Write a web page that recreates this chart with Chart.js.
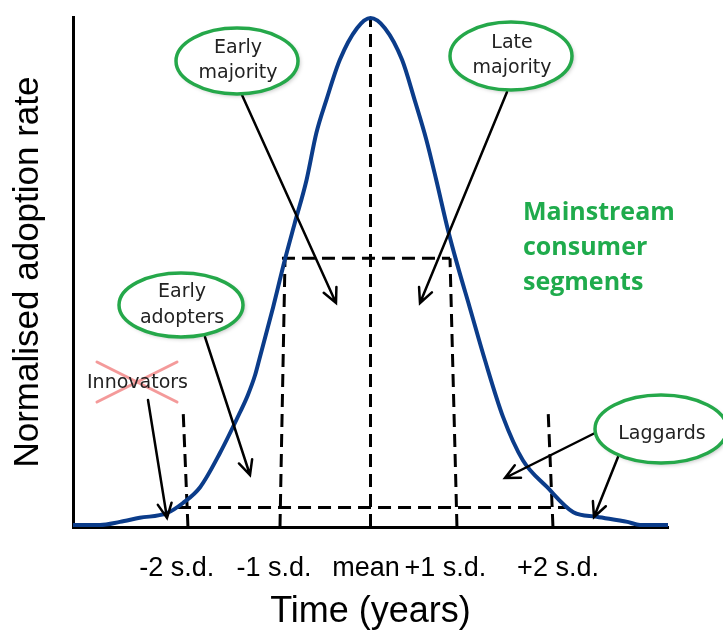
<!DOCTYPE html>
<html>
<head>
<meta charset="utf-8">
<script src="https://cdn.jsdelivr.net/npm/chart.js@4"></script>
<style>
  html, body { margin: 0; padding: 0; background: #fff; }
</style>
</head>
<body>
<canvas id="chart" width="723" height="630"></canvas>
<script>
// time measured in s.d. from the mean, adoption rate normalised to the peak
let curveX = [-3.30, -3.00, -2.78, -2.56, -2.26, -2.08, -1.89, -1.67, -1.45, -1.36, -1.28, -1.23, -1.08,
              -0.95, -0.84, -0.71, -0.60, -0.49, -0.34, -0.15, 0.00, 0.16, 0.35, 0.49, 0.62,
              0.73, 0.86, 0.97, 1.10, 1.27, 1.47, 1.69, 1.96, 2.25, 2.51, 2.85, 2.99, 3.30];
let curveY = [0.004, 0.004, 0.010, 0.018, 0.027, 0.047, 0.078, 0.145, 0.224, 0.259, 0.298, 0.331, 0.431,
              0.524, 0.596, 0.680, 0.773, 0.837, 0.916, 0.978, 0.998, 0.978, 0.916, 0.837, 0.759,
              0.680, 0.582, 0.510, 0.431, 0.327, 0.216, 0.131, 0.078, 0.029, 0.020, 0.010, 0.004, 0.004];

let tickPos = [-2.15, -1.07, -0.05, 0.83, 2.08];
let tickLabels = ['-2 s.d.', '-1 s.d.', 'mean', '+1 s.d.', '+2 s.d.'];

// dashed segment boundaries: foot on the axis, top end, height of top end
let divFootX = [-2.025, -1.004, 0.0, 0.959, 2.024];
let divTopX = [-2.080, -0.948, 0.0, 0.882, 1.969];
let divTopY = [0.235, 0.527, 0.998, 0.527, 0.233];

// dashed horizontal steps
let stepY = [0.038, 0.527];
let stepFrom = [-2.135, -0.982];
let stepTo = [2.180, 0.882];

let curveData = curveX.map((x, i) => ({x: x, y: curveY[i]}));

let datasets = [{
    label: 'Adoption',
    data: curveData,
    borderColor: '#0b3c8a',
    borderWidth: 4,
    pointRadius: 0,
    cubicInterpolationMode: 'monotone',
    clip: 10,
    order: 0
}];

divFootX.forEach((x, i) => {
    datasets.push({
        data: [{x: x, y: 0}, {x: divTopX[i], y: divTopY[i]}],
        borderColor: '#000',
        borderWidth: 3,
        borderDash: [13, 7],
        pointRadius: 0,
        clip: 10,
        order: 1
    });
});

stepY.forEach((y, i) => {
    datasets.push({
        data: [{x: stepFrom[i], y: y}, {x: stepTo[i], y: y}],
        borderColor: '#000',
        borderWidth: 3,
        borderDash: [13, 7],
        pointRadius: 0,
        clip: 10,
        order: 1
    });
});

function arrow(ctx, x1, y1, x2, y2) {
    let a = Math.atan2(y2 - y1, x2 - x1);
    let len = 16, spread = 0.45;
    ctx.beginPath();
    ctx.moveTo(x1, y1);
    ctx.lineTo(x2, y2);
    ctx.moveTo(x2 - len * Math.cos(a - spread), y2 - len * Math.sin(a - spread));
    ctx.lineTo(x2, y2);
    ctx.lineTo(x2 - len * Math.cos(a + spread), y2 - len * Math.sin(a + spread));
    ctx.stroke();
}

let notes = {
    id: 'notes',
    afterDatasetsDraw(chart) {
        let ctx = chart.ctx;
        ctx.save();

        ctx.strokeStyle = '#000';
        ctx.lineWidth = 2.5;
        ctx.lineCap = 'round';
        arrow(ctx, 242, 95, 336, 303);
        arrow(ctx, 507, 92, 420, 303);
        arrow(ctx, 205, 337, 250, 475);
        arrow(ctx, 148, 400, 167, 518);
        arrow(ctx, 595, 433, 505, 478);
        arrow(ctx, 618, 457, 594, 517);

        // crossed-out innovators
        ctx.strokeStyle = 'rgba(240,120,120,0.75)';
        ctx.lineWidth = 3;
        ctx.beginPath();
        ctx.moveTo(97, 362); ctx.lineTo(177, 402);
        ctx.moveTo(97, 402); ctx.lineTo(177, 362);
        ctx.stroke();
        ctx.fillStyle = '#222';
        ctx.font = '19px "DejaVu Sans"';
        ctx.textAlign = 'left';
        ctx.textBaseline = 'alphabetic';
        ctx.fillText('Innovators', 87, 388);

        let bubbles = [
            {cx: 237, cy: 61, rx: 61, ry: 33, lines: ['Early', 'majority'], base: [53, 78]},
            {cx: 511, cy: 56, rx: 61, ry: 34, lines: ['Late', 'majority'], base: [48, 73]},
            {cx: 181, cy: 305, rx: 62, ry: 32, lines: ['Early', 'adopters'], base: [297, 323]},
            {cx: 661, cy: 429, rx: 66, ry: 34, lines: ['Laggards'], base: [439]}
        ];
        bubbles.forEach(b => {
            ctx.save();
            ctx.beginPath();
            ctx.ellipse(b.cx, b.cy, b.rx, b.ry, 0, 0, Math.PI * 2);
            ctx.fillStyle = '#fff';
            ctx.shadowColor = 'rgba(0,0,0,0.25)';
            ctx.shadowBlur = 4;
            ctx.shadowOffsetX = 2;
            ctx.shadowOffsetY = 2;
            ctx.fill();
            ctx.shadowColor = 'transparent';
            ctx.strokeStyle = '#25a84a';
            ctx.lineWidth = 3.5;
            ctx.stroke();
            ctx.restore();
            ctx.fillStyle = '#222';
            ctx.font = '19px "DejaVu Sans"';
            ctx.textAlign = 'center';
            b.lines.forEach((t, i) => ctx.fillText(t, b.cx + 1, b.base[i]));
        });

        ctx.fillStyle = '#1fab4c';
        ctx.font = 'bold 25px "Open Sans"';
        ctx.textAlign = 'left';
        ctx.fillText('Mainstream', 523, 220);
        ctx.fillText('consumer', 523, 255);
        ctx.fillText('segments', 523, 290);

        ctx.restore();
    }
};

let chart = new Chart(document.getElementById('chart').getContext('2d'), {
    type: 'line',
    data: { datasets: datasets },
    options: {
        responsive: false,
        animation: false,
        layout: { padding: { top: 17, right: 55, left: 0, bottom: 0 } },
        plugins: { legend: { display: false }, tooltip: { enabled: false } },
        scales: {
            x: {
                type: 'linear',
                min: -3.3,
                max: 3.3,
                grid: { display: false, drawTicks: false },
                border: { display: true, color: '#000', width: 3 },
                afterFit: s => { s.height = 103; },
                afterBuildTicks: s => { s.ticks = tickPos.map(v => ({value: v})); },
                ticks: {
                    autoSkip: false,
                    maxRotation: 0,
                    padding: 25,
                    color: '#000',
                    font: { family: '"Liberation Sans", Arial', size: 27 },
                    callback: (v, i) => tickLabels[i]
                },
                title: {
                    display: true,
                    text: 'Time (years)',
                    color: '#000',
                    padding: 0,
                    font: { family: '"Liberation Sans", Arial', size: 36, lineHeight: 1 }
                }
            },
            y: {
                min: 0,
                max: 1,
                grid: { display: false, drawTicks: false },
                border: { display: true, color: '#000', width: 3 },
                afterFit: s => { s.width = 73; },
                ticks: { display: false },
                title: {
                    display: true,
                    text: 'Normalised adoption rate',
                    color: '#000',
                    padding: { top: 11, bottom: 0 },
                    font: { family: '"Liberation Sans", Arial', size: 35, lineHeight: 1 }
                }
            }
        }
    },
    plugins: [notes]
});
</script>
</body>
</html>
